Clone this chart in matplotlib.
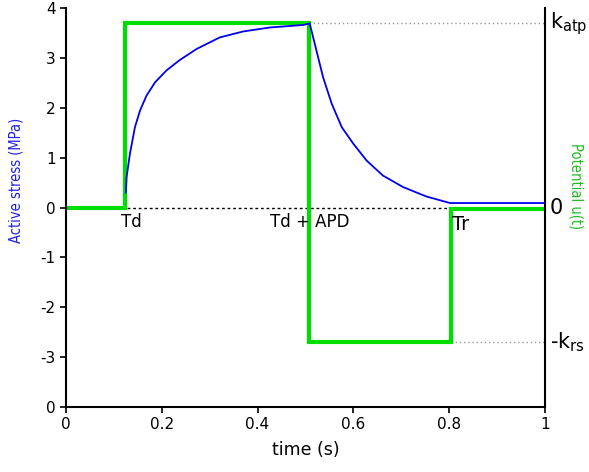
import matplotlib
matplotlib.use("Agg")
import matplotlib.pyplot as plt

# green potential u(t): piecewise constant
td = 0.123
td_apd = 0.507
tr = 0.804
k_atp = 3.69
k_rs = 2.70
u_time = [0.0, td, td, td_apd, td_apd, tr, tr, 1.0]
u_value = [0.0, 0.0, k_atp, k_atp, -k_rs, -k_rs, -0.02, -0.02]

# blue active stress
stress_time = [0.125, 0.1266, 0.1336, 0.144, 0.1545, 0.168, 0.186, 0.210, 0.238, 0.273,
               0.321, 0.370, 0.426, 0.495, 0.509,
               0.523, 0.537, 0.555, 0.576, 0.600, 0.628, 0.662, 0.704, 0.753, 0.802,
               0.90, 1.0]
stress_value = [0.30, 0.61, 1.08, 1.61, 1.94, 2.24, 2.51, 2.75, 2.96, 3.18,
                3.41, 3.53, 3.61, 3.66, 3.69,
                3.15, 2.61, 2.08, 1.61, 1.28, 0.94, 0.64, 0.41, 0.22, 0.09,
                0.09, 0.09]

y_ticks = [-4, -3, -2, -1, 0, 1, 2, 3, 4]
y_tick_labels = ["0", "-3", "-2", "-1", "0", "1", "2", "3", "4"]
x_ticks = [0, 0.2, 0.4, 0.6, 0.8, 1]
x_tick_labels = ["0", "0.2", "0.4", "0.6", "0.8", "1"]

fig = plt.figure(figsize=(5.89, 4.72), dpi=100)
ax = fig.add_axes([0.112, 0.1377, 0.813, 0.8453])

ax.plot([0, tr], [0, 0], color="black", linestyle=(0, (2, 2)), linewidth=1.0, zorder=1)
ax.plot([td_apd, 1.0], [k_atp, k_atp], color="#999999", linestyle=(0, (1, 2)), linewidth=1.0, zorder=1)
ax.plot([tr, 1.0], [-k_rs, -k_rs], color="#999999", linestyle=(0, (1, 2)), linewidth=1.0, zorder=1)

ax.plot(u_time, u_value, color="#00dd00", linewidth=3, zorder=2, solid_joinstyle="miter")
ax.plot(stress_time, stress_value, color="#0000ee", linewidth=1.3, zorder=3)

ax.set_xlim(0, 1)
ax.set_ylim(-4, 4)
ax.set_xticks(x_ticks)
ax.set_xticklabels(x_tick_labels)
ax.set_yticks(y_ticks)
ax.set_yticklabels(y_tick_labels)
ax.tick_params(direction="out", length=4, width=1.2, labelsize=11)
ax.spines["top"].set_visible(False)
for side in ("left", "bottom", "right"):
    ax.spines[side].set_linewidth(1.5)

ax.set_xlabel("time (s)", fontsize=12.5)
ax.xaxis.set_label_coords(0.5, -0.085)
ax.set_ylabel("Active stress (MPa)", color="#2222dd", fontsize=10.5, fontstretch="condensed")
ax.yaxis.set_label_coords(-0.088, 0.568)

ax.text(td - 0.008, -0.29, "Td", fontsize=12, ha="left", va="center")
ax.text(0.426, -0.29, "Td + APD", fontsize=12, ha="left", va="center")
ax.text(tr + 0.002, -0.34, "Tr", fontsize=14, ha="left", va="center")

ax.text(1.01, k_atp + 0.0, r"k$_{\rm atp}$", fontsize=15, ha="left", va="center",
        transform=ax.get_yaxis_transform())
ax.text(1.01, 0.0, "0", fontsize=15, ha="left", va="center",
        transform=ax.get_yaxis_transform())
ax.text(1.01, -k_rs, r"-k$_{\rm rs}$", fontsize=15, ha="left", va="center",
        transform=ax.get_yaxis_transform())
ax.text(1.065, 0.553, "Potential u(t)", color="#22bb22", fontsize=10.5, rotation=270,
        fontstretch="condensed", ha="center", va="center", transform=ax.transAxes)

fig.savefig("out.png", dpi=100)
